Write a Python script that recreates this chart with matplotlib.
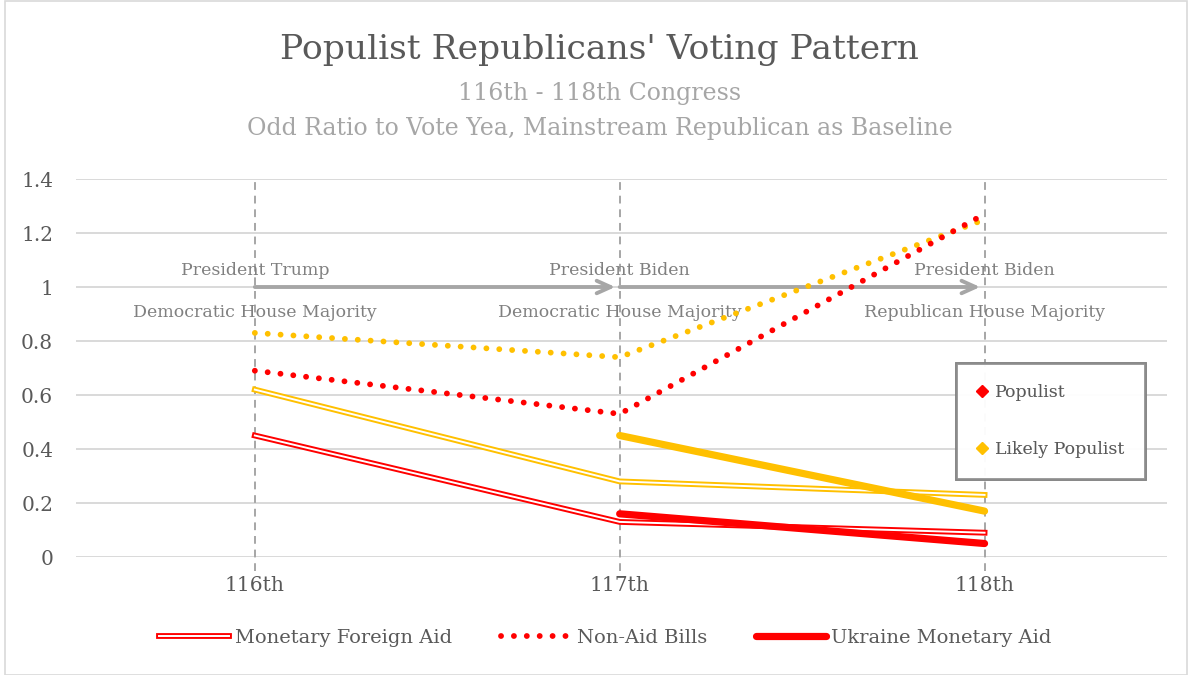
import numpy as np
import matplotlib
matplotlib.use("Agg")
import matplotlib.pyplot as plt
import matplotlib.patheffects as pe
from matplotlib.lines import Line2D
from matplotlib.patches import Rectangle

# ---- data ----
congress = ["116th", "117th", "118th"]
populist_foreign_aid = [0.45, 0.13, 0.09]
likely_foreign_aid = [0.62, 0.28, 0.23]
populist_non_aid = [0.69, 0.53, 1.27]
likely_non_aid = [0.83, 0.74, 1.25]
populist_ukraine = [np.nan, 0.16, 0.05]
likely_ukraine = [np.nan, 0.45, 0.17]

era_top = ["President Trump", "President Biden", "President Biden"]
era_bottom = ["Democratic House Majority", "Democratic House Majority",
              "Republican House Majority"]
y_ticks = [0, 0.2, 0.4, 0.6, 0.8, 1.0, 1.2, 1.4]
y_tick_labels = ["0", "0.2", "0.4", "0.6", "0.8", "1", "1.2", "1.4"]

RED = "#FF0000"
GOLD = "#FFC000"
GRID = "#D9D9D9"
DARK = "#595959"
MID = "#808080"
LIGHT = "#A6A6A6"

plt.rcParams["font.family"] = ["DejaVu Serif"]

fig = plt.figure(figsize=(11.92, 6.75), dpi=100)
ax = fig.add_axes([0.0638, 0.1748, 0.9152, 0.56])

x = np.arange(len(congress))


def double_line(color):
    return [pe.Stroke(linewidth=4.2, foreground=color),
            pe.Stroke(linewidth=1.4, foreground="white")]


dotted = dict(linestyle=(0, (0.01, 2.2)), linewidth=4.2,
              dash_capstyle="round")

# Monetary foreign aid (double lines)
ax.plot(x, likely_foreign_aid, color=GOLD, lw=4.2,
        path_effects=double_line(GOLD), zorder=3)
ax.plot(x, populist_foreign_aid, color=RED, lw=4.2,
        path_effects=double_line(RED), zorder=3)

# Non-aid bills (dotted)
ax.plot(x, likely_non_aid, color=GOLD, zorder=4, **dotted)
ax.plot(x, populist_non_aid, color=RED, zorder=4, **dotted)

# Ukraine monetary aid (thick)
ax.plot(x, likely_ukraine, color=GOLD, lw=5.2, solid_capstyle="round",
        zorder=5)
ax.plot(x, populist_ukraine, color=RED, lw=5.2, solid_capstyle="round",
        zorder=5)

# vertical dashed markers at each Congress
for xi in x:
    ax.plot([xi, xi], [-0.05, 1.4], color=LIGHT, lw=1.4,
            linestyle=(0, (4, 3)), zorder=2, clip_on=False)

# presidency / house-majority arrows and labels
for i in range(len(x) - 1):
    ax.annotate("", xy=(x[i + 1] - 0.012, 1.0), xytext=(x[i], 1.0),
                arrowprops=dict(arrowstyle="->,head_length=1.0,head_width=0.45",
                                color=LIGHT, lw=2.8, shrinkA=0, shrinkB=0),
                zorder=3)
for xi, top, bot in zip(x, era_top, era_bottom):
    ax.text(xi, 1.06, top, ha="center", va="center", color=MID,
            fontsize=12.5)
    ax.text(xi, 0.905, bot, ha="center", va="center", color=MID,
            fontsize=12.5)

# axes styling
ax.set_xlim(-0.49, 2.5)
ax.set_ylim(0, 1.4)
ax.set_yticks(y_ticks)
ax.set_yticklabels(y_tick_labels)
ax.set_xticks(x)
ax.set_xticklabels(congress)
ax.tick_params(axis="both", length=0, labelsize=14.5, labelcolor=DARK)
ax.tick_params(axis="y", pad=16.5)
ax.tick_params(axis="x", pad=14)
ax.grid(axis="y", color=GRID, lw=1.4)
ax.set_axisbelow(True)
for s in ax.spines.values():
    s.set_visible(False)

# group legend (right)
grp_handles = [
    Line2D([], [], marker="D", linestyle="none", color=RED, markersize=6),
    Line2D([], [], marker="D", linestyle="none", color=GOLD, markersize=6),
]
leg1 = ax.legend(grp_handles, ["Populist", "Likely Populist"],
                 loc="upper left", bbox_to_anchor=(0.807, 0.513),
                 frameon=True, fancybox=False, fontsize=12.5,
                 labelspacing=2.3, handletextpad=0.44, borderpad=1.2,
                 borderaxespad=0, labelcolor=DARK, handlelength=0.6)
leg1.get_frame().set_edgecolor("#7F7F7F")
leg1.get_frame().set_linewidth(2)
ax.add_artist(leg1)

# bill-type legend (bottom)
type_handles = [
    Line2D([], [], color=RED, lw=4.2, path_effects=double_line(RED)),
    Line2D([], [], color=RED, **dotted),
    Line2D([], [], color=RED, lw=5.2, solid_capstyle="round"),
]
fig.legend(type_handles,
           ["Monetary Foreign Aid", "Non-Aid Bills", "Ukraine Monetary Aid"],
           loc="center", bbox_to_anchor=(0.508, 0.055), ncol=3,
           frameon=False, fontsize=14, labelcolor=DARK, handlelength=3.6,
           handletextpad=0.3, columnspacing=2.5)

# titles
fig.text(0.503, 0.926, "Populist Republicans' Voting Pattern", ha="center",
         va="center", fontsize=24.8, color=DARK)
fig.text(0.503, 0.861, "116th - 118th Congress", ha="center", va="center",
         fontsize=17, color=LIGHT)
fig.text(0.503, 0.809, "Odd Ratio to Vote Yea, Mainstream Republican as Baseline",
         ha="center", va="center", fontsize=17, color=LIGHT)

# chart border
fig.patches.append(Rectangle((0.004, 0.0), 0.992, 0.998,
                             transform=fig.transFigure, fill=False,
                             edgecolor=GRID, lw=1.2))

fig.savefig("out.png", dpi=100)
